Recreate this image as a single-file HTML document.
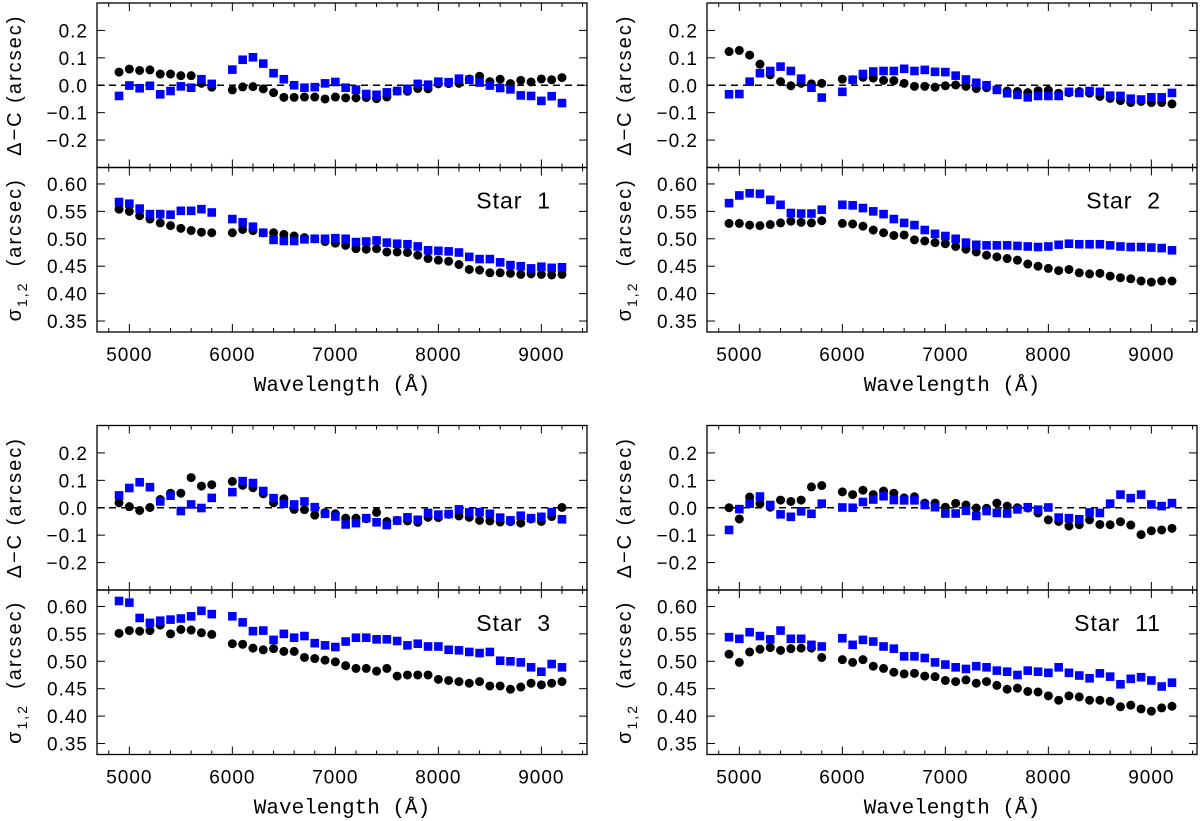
<!DOCTYPE html>
<html><head><meta charset="utf-8"><style>
html,body{margin:0;padding:0;background:#fff;}
svg{display:block;font-family:"Liberation Sans",sans-serif;}
</style></head><body>
<svg id="fig" width="1200" height="821" viewBox="0 0 1200 821" xmlns="http://www.w3.org/2000/svg"></svg>
<script>
const wavelengths=[4900,5000,5100,5200,5300,5400,5500,5600,5700,5800,6000,6100,6200,6300,6400,6500,6600,6700,6800,6900,7000,7100,7200,7300,7400,7500,7600,7700,7800,7900,8000,8100,8200,8300,8400,8500,8600,8700,8800,8900,9000,9100,9200];
const xTicks=[5000,6000,7000,8000,9000];
const dcTicks=[0.2,0.1,0.0,-0.1,-0.2];
const dcTickLabels=["0.2","0.1","0.0","\u22120.1","\u22120.2"];
const sigTicks=[0.60,0.55,0.50,0.45,0.40,0.35];
const sigTickLabels=["0.60","0.55","0.50","0.45","0.40","0.35"];
const starNames=["Star  1","Star  2","Star  3","Star  11"];
const s1dcBlack=[0.048,0.059,0.054,0.056,0.041,0.041,0.035,0.035,0.007,-0.007,-0.017,-0.006,-0.005,-0.013,-0.027,-0.044,-0.044,-0.043,-0.043,-0.05,-0.043,-0.046,-0.046,-0.045,-0.049,-0.043,-0.021,-0.022,-0.012,-0.013,0.005,0.006,0.007,0.023,0.033,0.013,0.022,0.006,0.018,0.012,0.023,0.02,0.028];
const s1dcBlue=[-0.039,-0.001,-0.011,-0.002,-0.033,-0.021,-0.004,-0.009,0.022,0.005,0.057,0.093,0.102,0.079,0.044,0.022,0,-0.009,-0.007,0.007,0.012,-0.009,-0.016,-0.032,-0.035,-0.026,-0.021,-0.013,0.005,0.002,0.013,0.011,0.024,0.02,0.01,-0.001,-0.01,-0.015,-0.037,-0.039,-0.057,-0.04,-0.065];
const s1sigBlack=[0.554,0.550,0.542,0.536,0.529,0.524,0.519,0.515,0.512,0.511,0.511,0.517,0.515,0.511,0.511,0.508,0.505,0.502,0.500,0.495,0.492,0.488,0.482,0.481,0.482,0.476,0.476,0.475,0.470,0.464,0.461,0.459,0.453,0.444,0.443,0.438,0.438,0.437,0.435,0.436,0.435,0.434,0.435];
const s1sigBlue=[0.567,0.564,0.555,0.545,0.545,0.544,0.551,0.551,0.554,0.548,0.536,0.530,0.522,0.511,0.498,0.496,0.496,0.499,0.500,0.500,0.501,0.500,0.494,0.495,0.497,0.493,0.491,0.490,0.486,0.479,0.478,0.477,0.475,0.467,0.463,0.463,0.457,0.452,0.450,0.446,0.449,0.447,0.448];
const s2dcBlack=[0.123,0.127,0.110,0.077,0.038,0.013,-0.002,0.007,0.005,0.007,0.022,0.020,0.029,0.026,0.018,0.017,0.007,-0.004,-0.004,-0.007,-0.002,0.001,-0.004,-0.012,-0.009,-0.015,-0.021,-0.023,-0.027,-0.020,-0.018,-0.029,-0.027,-0.023,-0.029,-0.041,-0.048,-0.056,-0.063,-0.059,-0.063,-0.063,-0.068];
const s2dcBlue=[-0.033,-0.032,0.013,0.044,0.052,0.068,0.052,0.024,-0.009,-0.045,-0.024,0.020,0.041,0.050,0.052,0.052,0.060,0.052,0.056,0.049,0.048,0.035,0.021,0.009,0,-0.017,-0.029,-0.035,-0.044,-0.039,-0.039,-0.039,-0.024,-0.028,-0.021,-0.024,-0.038,-0.039,-0.049,-0.052,-0.044,-0.044,-0.028];
const s2sigBlack=[0.528,0.528,0.525,0.524,0.526,0.529,0.532,0.530,0.529,0.533,0.528,0.527,0.523,0.516,0.511,0.506,0.507,0.498,0.496,0.493,0.491,0.486,0.481,0.476,0.470,0.467,0.464,0.461,0.454,0.450,0.446,0.442,0.444,0.438,0.436,0.437,0.432,0.429,0.427,0.423,0.421,0.423,0.423];
const s2sigBlue=[0.565,0.579,0.583,0.582,0.571,0.562,0.547,0.546,0.546,0.553,0.562,0.561,0.556,0.550,0.545,0.536,0.529,0.525,0.516,0.509,0.505,0.500,0.493,0.489,0.488,0.488,0.488,0.487,0.486,0.485,0.486,0.489,0.491,0.490,0.490,0.490,0.488,0.486,0.485,0.485,0.484,0.483,0.479];
const s3dcBlack=[0.018,0.004,-0.010,0.001,0.030,0.053,0.053,0.110,0.079,0.084,0.096,0.082,0.073,0.051,0.018,0.033,-0.006,-0.007,-0.027,-0.018,-0.022,-0.038,-0.038,-0.040,-0.017,-0.050,-0.046,-0.048,-0.053,-0.035,-0.036,-0.024,-0.030,-0.035,-0.046,-0.048,-0.052,-0.051,-0.056,-0.041,-0.050,-0.032,0.001];
const s3dcBlue=[0.045,0.072,0.093,0.075,0.023,0.044,-0.012,0.012,-0.001,0.036,0.057,0.097,0.090,0.061,0.035,0.015,0.012,0.023,0.002,-0.022,-0.032,-0.061,-0.056,-0.038,-0.053,-0.063,-0.047,-0.035,-0.044,-0.019,-0.025,-0.023,-0.006,-0.017,-0.016,-0.022,-0.036,-0.046,-0.029,-0.038,-0.033,-0.016,-0.042];
const s3sigBlack=[0.551,0.556,0.555,0.556,0.566,0.550,0.558,0.557,0.552,0.549,0.532,0.531,0.524,0.521,0.523,0.518,0.518,0.507,0.505,0.502,0.499,0.492,0.487,0.487,0.482,0.487,0.473,0.475,0.475,0.475,0.467,0.465,0.463,0.460,0.463,0.455,0.455,0.449,0.453,0.460,0.457,0.460,0.463];
const s3sigBlue=[0.610,0.607,0.579,0.570,0.574,0.576,0.578,0.582,0.592,0.586,0.582,0.571,0.555,0.556,0.539,0.550,0.543,0.546,0.533,0.529,0.526,0.536,0.543,0.543,0.540,0.540,0.537,0.529,0.532,0.527,0.527,0.521,0.520,0.517,0.515,0.517,0.501,0.500,0.498,0.489,0.481,0.495,0.489];
const s11dcBlack=[0,-0.041,0.039,0.015,0.002,0.028,0.023,0.028,0.076,0.081,0.058,0.048,0.064,0.048,0.061,0.053,0.036,0.040,0.017,0.017,0.002,0.016,0.010,-0.001,-0.002,0.017,0.006,0,-0.001,-0.019,-0.044,-0.050,-0.067,-0.062,-0.044,-0.061,-0.062,-0.051,-0.063,-0.098,-0.084,-0.081,-0.075];
const s11dcBlue=[-0.081,-0.005,0.015,0.041,0.010,-0.024,-0.033,-0.013,-0.022,0.015,0.001,0,0.021,0.030,0.042,0.028,0.027,0.027,0.010,0.002,-0.021,-0.021,-0.011,-0.030,-0.012,-0.019,-0.021,-0.006,0.002,-0.007,0.001,-0.036,-0.038,-0.042,-0.017,-0.019,0.015,0.048,0.035,0.048,0.012,0.006,0.017];
const s11sigBlack=[0.513,0.498,0.517,0.522,0.525,0.520,0.523,0.524,0.524,0.507,0.503,0.498,0.503,0.491,0.487,0.480,0.477,0.478,0.473,0.472,0.465,0.463,0.466,0.460,0.463,0.456,0.449,0.451,0.445,0.444,0.437,0.429,0.437,0.435,0.429,0.429,0.427,0.417,0.420,0.413,0.409,0.415,0.418];
const s11sigBlue=[0.544,0.541,0.553,0.546,0.540,0.556,0.541,0.541,0.530,0.527,0.542,0.530,0.539,0.536,0.527,0.523,0.509,0.509,0.506,0.498,0.494,0.489,0.486,0.491,0.489,0.483,0.481,0.475,0.483,0.481,0.479,0.489,0.479,0.474,0.469,0.478,0.472,0.458,0.468,0.471,0.465,0.454,0.461];

const NS="http://www.w3.org/2000/svg";
const svg=document.getElementById('fig');
function mk(tag,attrs,parent,text){const e=document.createElementNS(NS,tag);for(const k in attrs)e.setAttribute(k,attrs[k]);if(text!==undefined)e.textContent=text;(parent||svg).appendChild(e);return e;}

const XMIN=4686, XMAX=9443, PW=490, SUBH=164.5;
const DCMIN=-0.3, DCMAX=0.3, SGMIN=0.33, SGMAX=0.63;
const panels=[
 {x:97,y:3,dcB:s1dcBlack,dcU:s1dcBlue,sgB:s1sigBlack,sgU:s1sigBlue,name:starNames[0],id:'star-1'},
 {x:707,y:3,dcB:s2dcBlack,dcU:s2dcBlue,sgB:s2sigBlack,sgU:s2sigBlue,name:starNames[1],id:'star-2'},
 {x:97,y:425.5,dcB:s3dcBlack,dcU:s3dcBlue,sgB:s3sigBlack,sgU:s3sigBlue,name:starNames[2],id:'star-3'},
 {x:707,y:425.5,dcB:s11dcBlack,dcU:s11dcBlue,sgB:s11sigBlack,sgU:s11sigBlue,name:starNames[3],id:'star-11'}
];

panels.forEach(p=>{
  const g=mk('g',{});
  
  
  const xs=w=>p.x+(w-XMIN)/(XMAX-XMIN)*PW;
  const yd=v=>p.y+(DCMAX-v)/(DCMAX-DCMIN)*SUBH;
  const ys=v=>p.y+SUBH+(SGMAX-v)/(SGMAX-SGMIN)*SUBH;
  const f1=mk('rect',{x:p.x,y:p.y,width:PW,height:SUBH,fill:'none',stroke:'#000','stroke-width':1.3},g);
  
  
  const f2=mk('rect',{x:p.x,y:p.y+SUBH,width:PW,height:SUBH,fill:'none',stroke:'#000','stroke-width':1.3},g);
  
  
  const edges=[p.y,p.y+SUBH,p.y+2*SUBH];
  for(let w=4800;w<=9400;w+=200){
    const major=(w%1000===0);const L=major?8:4;const X=xs(w);
    edges.forEach((ey,i)=>{
      if(i>0) mk('line',{x1:X,x2:X,y1:ey,y2:ey-L,stroke:'#000','stroke-width':1},g);
      if(i<2) mk('line',{x1:X,x2:X,y1:ey,y2:ey+L,stroke:'#000','stroke-width':1},g);
    });
  }
  xTicks.forEach(t=>{
    const tl=mk('text',{x:xs(t),y:p.y+2*SUBH+29,'text-anchor':'middle','font-size':19,'letter-spacing':1},g,String(t));
    
    
  });
  const xt=mk('text',{x:p.x+PW/2,y:p.y+2*SUBH+59,'text-anchor':'middle','font-size':21,'font-family':'"Liberation Mono",monospace'},g,'Wavelength (\u00c5)');
  
  
  dcTicks.forEach((t,i)=>{
    const Y=yd(t);
    mk('line',{x1:p.x,x2:p.x+8,y1:Y,y2:Y,stroke:'#000','stroke-width':1},g);
    mk('line',{x1:p.x+PW,x2:p.x+PW-8,y1:Y,y2:Y,stroke:'#000','stroke-width':1},g);
    const tl=mk('text',{x:p.x-9,y:Y+7,'text-anchor':'end','font-size':19,'letter-spacing':1},g,dcTickLabels[i]);
    
    
  });
  sigTicks.forEach((t,i)=>{
    const Y=ys(t);
    mk('line',{x1:p.x,x2:p.x+8,y1:Y,y2:Y,stroke:'#000','stroke-width':1},g);
    mk('line',{x1:p.x+PW,x2:p.x+PW-8,y1:Y,y2:Y,stroke:'#000','stroke-width':1},g);
    const tl=mk('text',{x:p.x-9,y:Y+7,'text-anchor':'end','font-size':19,'letter-spacing':1},g,sigTickLabels[i]);
    
    
  });
  const cx1=p.x-76, cy1=p.y+SUBH/2;
  const yt1=mk('text',{x:cx1,y:cy1,'text-anchor':'middle','font-size':20,'letter-spacing':2,transform:`rotate(-90 ${cx1} ${cy1})`},g,'\u0394\u2212C (arcsec)');
  
  
  yt1.setAttribute('style','white-space:pre');
  const cy2=p.y+SUBH*1.5;
  const yt2=mk('text',{x:cx1,y:cy2,'text-anchor':'middle','font-size':20,'letter-spacing':2,transform:`rotate(-90 ${cx1} ${cy2})`},g);
  
  
  yt2.setAttribute('style','white-space:pre');
  mk('tspan',{},yt2,'\u03c3');
  mk('tspan',{'font-size':14,dy:6},yt2,'1,2');
  mk('tspan',{dy:-6},yt2,'  (arcsec)');
  const zl=mk('line',{x1:p.x,x2:p.x+PW,y1:yd(0),y2:yd(0),stroke:'#000','stroke-width':1.5,'stroke-dasharray':'7,5'},g);
  
  
  const sl=mk('text',{x:p.x+454,y:p.y+SUBH+41,'text-anchor':'end','font-size':23,'letter-spacing':1},g,p.name);
  
  
  sl.setAttribute('style','white-space:pre');
  function circles(arr,yf,nm){
    arr.forEach((v,i)=>{
      const c=mk('circle',{cx:xs(wavelengths[i]),cy:yf(v),r:4.5,fill:'#000'},g);
      
      
    });
  }
  function squares(arr,yf,nm){
    arr.forEach((v,i)=>{
      const s=mk('rect',{x:xs(wavelengths[i])-4.3,y:yf(v)-4.3,width:8.6,height:8.6,fill:'#0000ff'},g);
      
      
    });
  }
  circles(p.dcB,yd,'offset-point-black');
  squares(p.dcU,yd,'offset-point-blue');
  circles(p.sgB,ys,'sigma-point-black');
  squares(p.sgU,ys,'sigma-point-blue');
});
</script>
</body></html>
